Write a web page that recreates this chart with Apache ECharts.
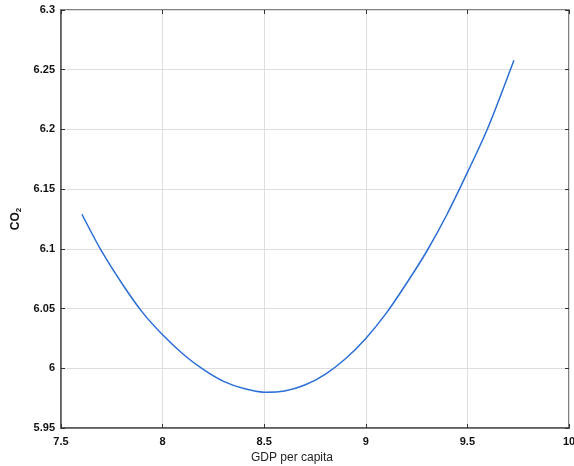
<!DOCTYPE html>
<html>
<head>
<meta charset="utf-8">
<script src="https://cdn.jsdelivr.net/npm/echarts@6/dist/echarts.min.js"></script>
<style>
  html, body { margin: 0; padding: 0; background: #fff; }
  #main { width: 574px; height: 466px; }
</style>
</head>
<body>
<div id="main"></div>
<script>
var mychart = echarts.init(document.getElementById('main'));

// values
const gdp = [7.603, 7.7, 7.8, 7.9, 8.0, 8.1, 8.2, 8.3, 8.4, 8.5, 8.6, 8.7, 8.8, 8.9, 9.0, 9.1, 9.2, 9.3, 9.4, 9.5, 9.6, 9.729];
const co2 = [6.129, 6.098, 6.071, 6.047, 6.028, 6.012, 5.999, 5.989, 5.983, 5.980, 5.981, 5.986, 5.995, 6.008, 6.025, 6.046, 6.071, 6.098, 6.129, 6.164, 6.201, 6.258];

const xRange = [7.5, 10, 0.5];
const yRange = [5.95, 6.3, 0.05];

const points = gdp.map(function (x, i) { return [x, co2[i]]; });

const fmt = function (v) { return String(parseFloat(v.toFixed(2))); };
const labelStyle = { color: '#111', fontSize: 11, fontWeight: 'bold', fontFamily: 'Liberation Sans, Arial, sans-serif' };

option = {
    backgroundColor: '#fff',
    animation: false,
    grid: {
        left: 61,
        right: 5,
        top: 10,
        bottom: 38,
        containLabel: false,
        outerBoundsMode: 'none',
        show: true,
        borderColor: '#555',
        borderWidth: 1.5
    },
    xAxis: [
        {
            type: 'value',
            min: xRange[0], max: xRange[1], interval: xRange[2],
            name: 'GDP per capita',
            nameLocation: 'middle',
            nameGap: 24,
            nameTextStyle: { color: '#222', fontSize: 12, fontFamily: 'Liberation Sans, Arial, sans-serif', padding: [0, 46, 0, 0] },
            axisLine: { show: true, lineStyle: { color: '#555', width: 1.5 } },
            axisTick: { show: true, inside: true, length: 4, lineStyle: { color: '#333' } },
            axisLabel: Object.assign({ margin: 8, formatter: fmt }, labelStyle),
            splitLine: { show: true, lineStyle: { color: '#dedede', width: 1 } }
        },
        {
            type: 'value', position: 'top',
            min: xRange[0], max: xRange[1], interval: xRange[2],
            axisLine: { show: false },
            axisTick: { show: true, inside: true, length: 4, lineStyle: { color: '#333' } },
            axisLabel: { show: false },
            splitLine: { show: false }
        }
    ],
    yAxis: [
        {
            type: 'value',
            min: yRange[0], max: yRange[1], interval: yRange[2],
            name: 'CO{sub|2}',
            nameLocation: 'middle',
            nameRotate: 90,
            nameGap: 35,
            nameTextStyle: {
                color: '#111', fontSize: 12, fontWeight: 'bold', fontFamily: 'Liberation Sans, Arial, sans-serif',
                rich: { sub: { fontSize: 8, fontWeight: 'bold', color: '#111', verticalAlign: 'bottom', padding: [6, 0, 0, 0] } }
            },
            axisLine: { show: true, lineStyle: { color: '#555', width: 1.5 } },
            axisTick: { show: true, inside: true, length: 4, lineStyle: { color: '#333' } },
            axisLabel: Object.assign({ margin: 6, formatter: fmt }, labelStyle),
            splitLine: { show: true, lineStyle: { color: '#dedede', width: 1 } }
        },
        {
            type: 'value', position: 'right',
            min: yRange[0], max: yRange[1], interval: yRange[2],
            axisLine: { show: false },
            axisTick: { show: true, inside: true, length: 4, lineStyle: { color: '#333' } },
            axisLabel: { show: false },
            splitLine: { show: false }
        }
    ],
    series: [
        {
            type: 'line',
            data: points,
            smooth: 0.3,
            showSymbol: false,
            lineStyle: { color: '#2a6fd6', width: 1.5 }
        }
    ]
};
mychart.setOption(option, true);
</script>
</body>
</html>
